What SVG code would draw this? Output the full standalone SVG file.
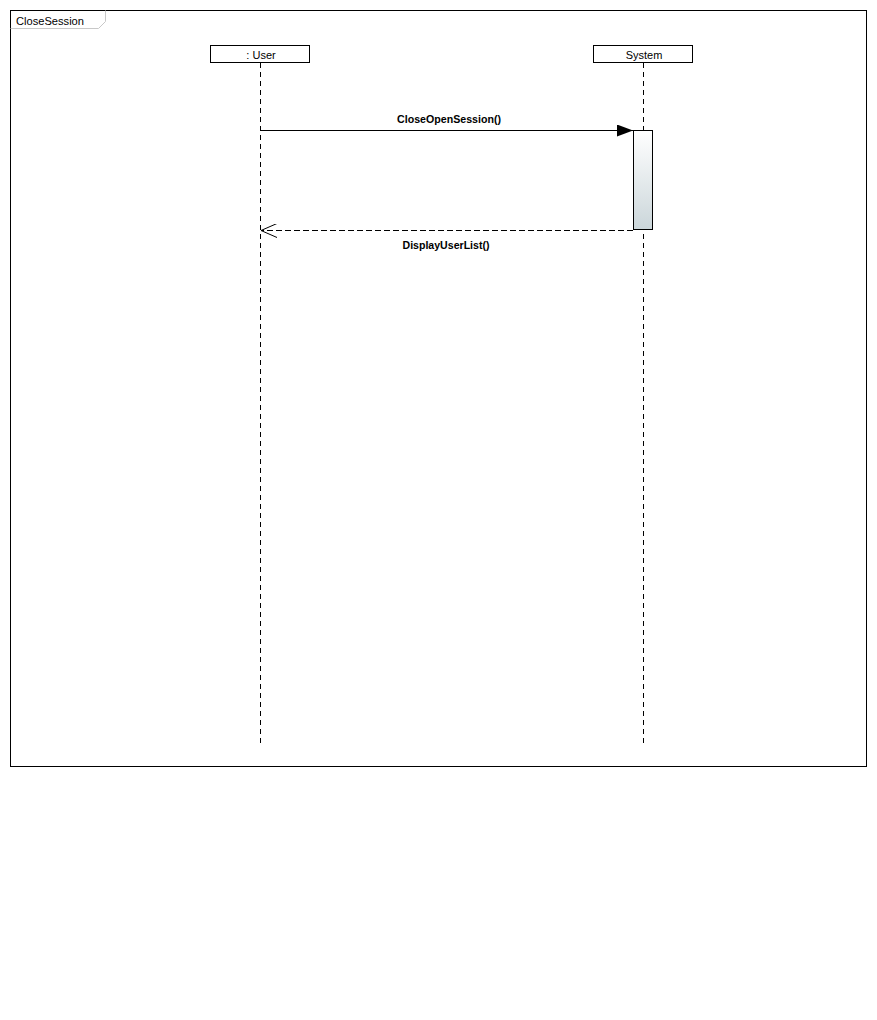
<svg xmlns="http://www.w3.org/2000/svg" width="877" height="1020" viewBox="0 0 877 1020">
<style>
text{font-family:"Liberation Sans","DejaVu Sans",sans-serif;font-size:11px;fill:#000}
.b{font-weight:bold}
.head{fill:#fff;stroke:#000;stroke-width:1}
.life{stroke:#000;stroke-width:1;stroke-dasharray:5,4;fill:none}
.msg{stroke:#000;stroke-width:1;fill:none}
.ret{stroke:#000;stroke-width:1;stroke-dasharray:6,3;fill:none}
</style>
<defs>
<linearGradient id="act" x1="0" y1="0" x2="0" y2="1">
<stop offset="0" stop-color="#ffffff"/>
<stop offset="1" stop-color="#cbd6da"/>
</linearGradient>
<marker id="filled" markerWidth="17" markerHeight="12" refX="16" refY="6" orient="auto" markerUnits="userSpaceOnUse">
<path d="M0,0 L16,6 L0,12 Z" fill="#000"/>
</marker>
<marker id="open" markerWidth="18" markerHeight="14" refX="17" refY="7" orient="auto" markerUnits="userSpaceOnUse">
<path d="M1,0 L17,7 L1,14" fill="none" stroke="#000" stroke-width="1"/>
</marker>
</defs>
<rect x="0" y="0" width="877" height="1020" fill="#fff"/>
<g id="frame">
<rect x="10.5" y="10.5" width="856" height="756" fill="none" stroke="#000"/>
<path d="M10.5,28.5 H98.5 L105.5,21.5 V10.5" fill="none" stroke="#c8c8c8"/>
<text x="16" y="25" textLength="68" lengthAdjust="spacingAndGlyphs">CloseSession</text>
</g>
<g id="user">
<rect class="head" x="210.5" y="45.5" width="99" height="17"/>
<text x="261" y="59" text-anchor="middle">: User</text>
<line class="life" x1="260.5" y1="63" x2="260.5" y2="743"/>
</g>
<g id="system">
<rect class="head" x="593.5" y="45.5" width="99" height="17"/>
<text x="644" y="59" text-anchor="middle">System</text>
<line class="life" x1="643.5" y1="63" x2="643.5" y2="743"/>
<rect x="633.5" y="130.5" width="19" height="99" fill="url(#act)" stroke="#000"/>
</g>
<g id="connectors">
<line class="msg" x1="260.5" y1="130.5" x2="633" y2="130.5" marker-end="url(#filled)"/>
<text class="b" x="449" y="123" text-anchor="middle" textLength="104" lengthAdjust="spacingAndGlyphs">CloseOpenSession()</text>
<line class="ret" x1="633" y1="230.5" x2="261" y2="230.5" marker-end="url(#open)"/>
<text class="b" x="446" y="249" text-anchor="middle" textLength="87" lengthAdjust="spacingAndGlyphs">DisplayUserList()</text>
</g>
</svg>
